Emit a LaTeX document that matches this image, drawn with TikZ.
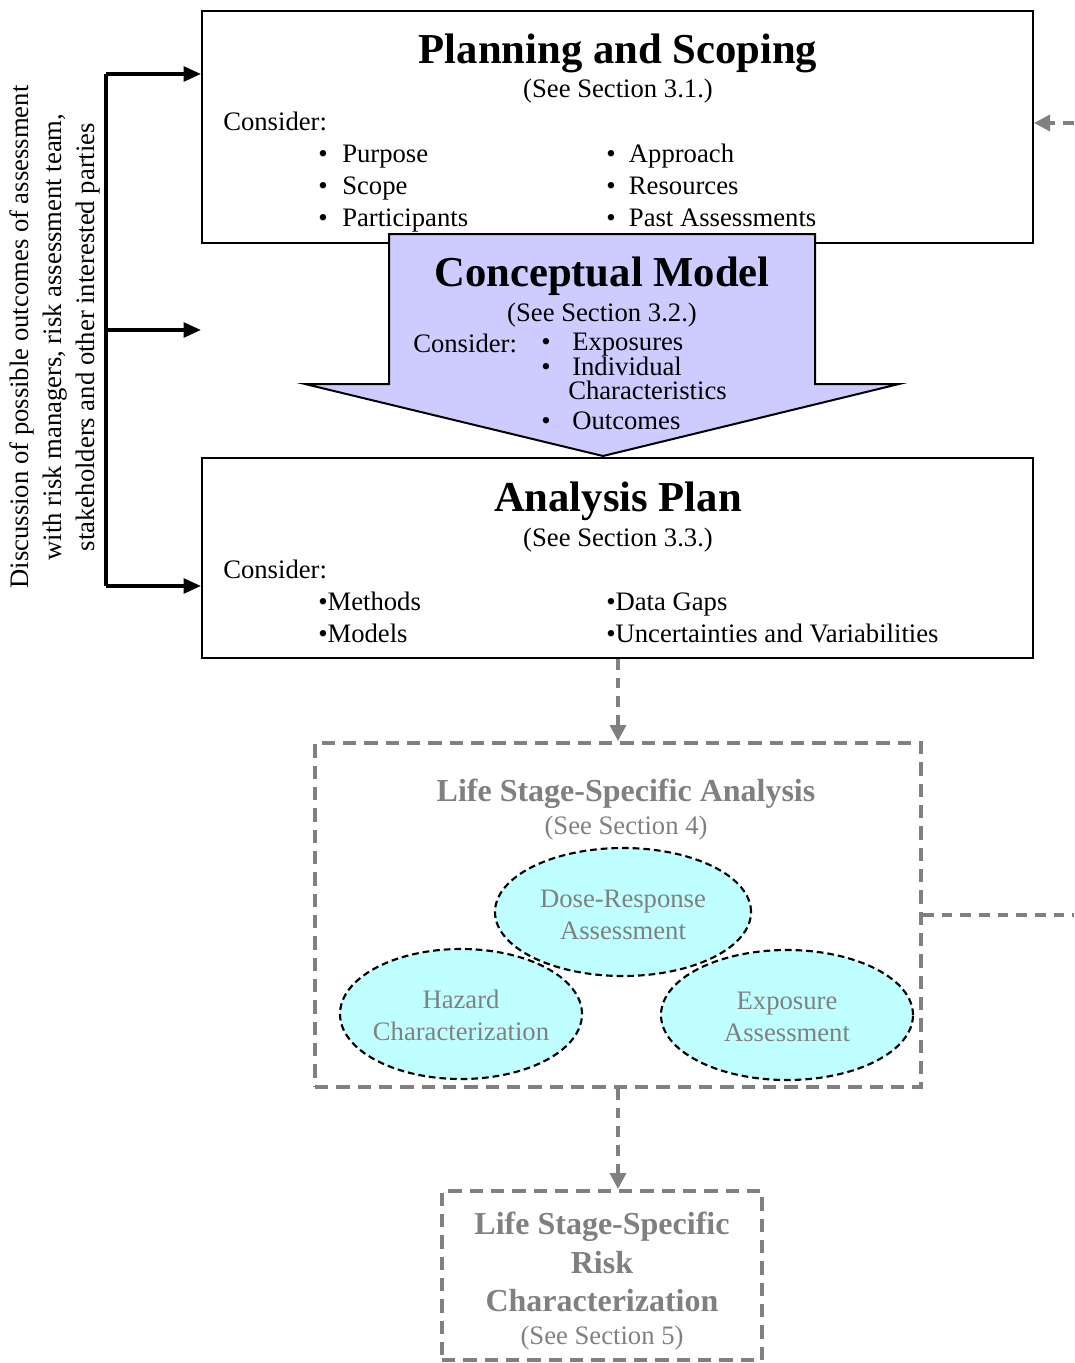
\documentclass[tikz,border=0pt]{standalone}
\usepackage{fontspec}
\setmainfont{Liberation Serif}
\usetikzlibrary{arrows.meta,shapes.geometric}

\definecolor{lav}{RGB}{206,204,255}
\definecolor{aqua}{RGB}{192,255,255}
\definecolor{mgray}{RGB}{128,128,128}

\begin{document}
\begin{tikzpicture}[x=0.75pt,y=-0.75pt,
  solidbox/.style={draw=black, line width=1.5pt, inner sep=0pt},
  grayframe/.style={draw=mgray, line width=3pt, dash pattern=on 10pt off 6pt, inner sep=0pt},
  body/.style={font=\fontsize{20}{24}\selectfont, inner sep=0pt, anchor=base west},
  bodyc/.style={font=\fontsize{20}{24}\selectfont, inner sep=0pt, anchor=base},
  bigtitle/.style={font=\fontsize{32}{38}\selectfont\bfseries, inner sep=0pt, anchor=base},
  graytitle/.style={font=\fontsize{24}{29}\selectfont\bfseries, text=mgray, inner sep=0pt, anchor=base},
  graybody/.style={font=\fontsize{20}{24}\selectfont, text=mgray, inner sep=0pt, anchor=base},
  bubble/.style={ellipse, draw=black, line width=1.6pt, dash pattern=on 5pt off 3pt, inner sep=0pt},
  feedarrow/.style={draw=black, line width=2.6pt, -{Triangle[width=11pt,length=13pt]}},
  grayarrow/.style={draw=mgray, line width=2.6pt, dash pattern=on 8pt off 6pt, -{Triangle[width=12pt,length=12pt]}},
  grayline/.style={draw=mgray, line width=2.6pt, dash pattern=on 8pt off 6pt}]

\useasboundingbox (0,0) rectangle (1074,1363);

% ---------- Planning and Scoping ----------
\node[solidbox, minimum width=623.25pt, minimum height=174pt] (plan) at (617.5,127) {};
\node[bigtitle] (planT) at (618,64) {Planning and Scoping};
\node[bodyc] (planS) at (618,98) {(See Section 3.1.)};
\node[body] (planC) at (223,130) {Consider:};
\node[body, anchor=north west, align=left] (planL) at (318,140)
  {\strut•\hspace{11pt}Purpose\\•\hspace{11pt}Scope\\•\hspace{11pt}Participants};
\node[body, anchor=north west, align=left] (planR) at (606,140)
  {\strut•\hspace{10pt}Approach\\•\hspace{10pt}Resources\\•\hspace{10pt}Past Assessments};

% ---------- Conceptual Model (block arrow) ----------
\coordinate (cmTL) at (389,234);
\coordinate (cmTR) at (815,234);
\coordinate (cmTip) at (603,456);
\draw[fill=lav, line width=1.5pt, line join=miter]
  (cmTL) -- (cmTR) -- (815,384) -- (899,384) -- (cmTip) -- (305,384) -- (389,384) -- cycle;
\node[bigtitle] (cmT) at (602,286) {Conceptual Model};
\node[bodyc] (cmS) at (602,321) {(See Section 3.2.)};
\node[body] (cmC) at (413,352) {Consider:};
\node[body] (cmB1) at (541,350) {•};
\node[body] (cmI1) at (572,350) {Exposures};
\node[body] (cmB2) at (541,375) {•};
\node[body] (cmI2) at (572,375) {Individual};
\node[body] (cmI2b) at (568,399) {Characteristics};
\node[body] (cmB3) at (541,429) {•};
\node[body] (cmI3) at (572,429) {Outcomes};

% ---------- Analysis Plan ----------
\node[solidbox, minimum width=623.25pt, minimum height=150pt] (ana) at (617.5,558) {};
\node[bigtitle] (anaT) at (618,511) {Analysis Plan};
\node[bodyc] (anaS) at (618,546) {(See Section 3.3.)};
\node[body] (anaC) at (223,578) {Consider:};
\node[body] (anaM1) at (318,610) {•Methods};
\node[body] (anaM2) at (318,642) {•Models};
\node[body] (anaD1) at (606,610) {•Data Gaps};
\node[body] (anaD2) at (606,642) {•Uncertainties and Variabilities};

% ---------- Discussion bracket on the left ----------
\node[font=\fontsize{20}{25}\selectfont, rotate=90, align=center, inner sep=0pt] (disc) at (55,337)
  {Discussion of possible outcomes of assessment\\
   with risk managers, risk assessment team,\\
   stakeholders and other interested parties};
\coordinate (bTop) at (106,74);
\coordinate (bMid) at (106,330);
\coordinate (bBot) at (106,586);
\draw[line width=2.6pt] (bTop) -- (bBot);
\draw[feedarrow] (bTop) -- (plan.west |- bTop);
\draw[feedarrow] (bMid) -- (plan.west |- bMid);
\draw[feedarrow] (bBot) -- (ana.west |- bBot);

% ---------- Life Stage-Specific Analysis ----------
\node[grayframe, minimum width=454.5pt, minimum height=258pt] (life) at (618,915) {};
\node[graytitle] (lifeT) at (626,801) {Life Stage-Specific Analysis};
\node[graybody] (lifeS) at (626,834) {(See Section 4)};

% ellipse fills first, so that every dashed outline stays visible
\fill[aqua] (623,912) ellipse [x radius=128, y radius=64];
\fill[aqua] (461,1014) ellipse [x radius=121, y radius=65];
\fill[aqua] (787,1015) ellipse [x radius=126, y radius=65];
\node[bubble, minimum width=192pt, minimum height=96pt] (dose) at (623,912) {};
\node[bubble, minimum width=181.5pt, minimum height=97.5pt] (haz) at (461,1014) {};
\node[bubble, minimum width=189pt, minimum height=97.5pt] (expo) at (787,1015) {};
\node[graybody] (doseT1) at (623,907) {Dose-Response};
\node[graybody] (doseT2) at (623,939) {Assessment};
\node[graybody] (hazT1) at (461,1008) {Hazard};
\node[graybody] (hazT2) at (461,1040) {Characterization};
\node[graybody] (expoT1) at (787,1009) {Exposure};
\node[graybody] (expoT2) at (787,1041) {Assessment};

% ---------- Life Stage-Specific Risk Characterization ----------
\node[grayframe, minimum width=240pt, minimum height=126.75pt] (risk) at (602,1275.5) {};
\node[graytitle] (riskT1) at (602,1234) {Life Stage-Specific};
\node[graytitle] (riskT2) at (602,1273) {Risk};
\node[graytitle] (riskT3) at (602,1311) {Characterization};
\node[graybody] (riskS) at (602,1344) {(See Section 5)};

% ---------- gray dashed flow ----------
\draw[grayarrow] (ana.south -| 618,0) -- (life.north -| 618,0);
\draw[grayarrow] (life.south -| 618,0) -- (risk.north -| 618,0);
\coordinate (edgeLow) at (1074,915);
\coordinate (edgeHigh) at (1074,123);
\draw[grayline] (life.east) -- (edgeLow);
\draw[grayarrow] (edgeHigh) -- (plan.east |- edgeHigh);

\end{tikzpicture}
\end{document}
